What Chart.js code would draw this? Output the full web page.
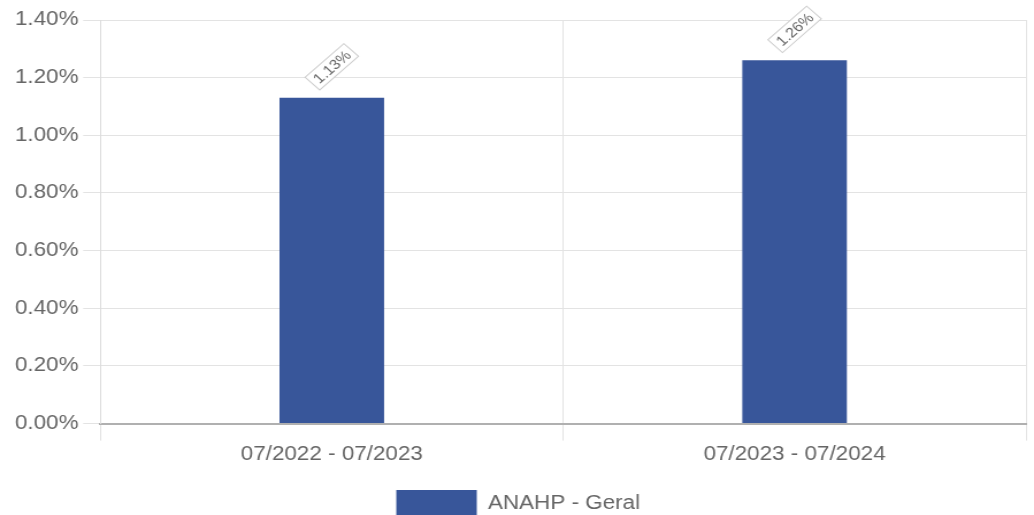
<!DOCTYPE html>
<html>
<head>
<meta charset="utf-8">
<script src="https://cdn.jsdelivr.net/npm/chart.js@4"></script>
<style>
html,body{margin:0;padding:0;background:#fff;overflow:hidden;}
#c{display:block;width:1034px !important;height:528px !important;}
</style>
</head>
<body>
<canvas id="c" width="899" height="528"></canvas>
<script>
const categories = ['07/2022 - 07/2023', '07/2023 - 07/2024'];
const seriesName = 'ANAHP - Geral';
const seriesValues = [1.13, 1.26];
const yMax = 1.4;
const yStep = 0.2;

const FONT = 'Arial, "Liberation Sans", sans-serif';
const TXT = '#666666';

const labelPlugin = {
  id: 'rotLabels',
  afterDatasetsDraw(chart) {
    const ctx = chart.ctx;
    const meta = chart.getDatasetMeta(0);
    meta.data.forEach((bar, i) => {
      const txt = seriesValues[i].toFixed(2) + '%';
      ctx.save();
      ctx.translate(bar.x, bar.y - 31);
      ctx.rotate(-45 * Math.PI / 180);
      ctx.font = '14px ' + FONT;
      const w = ctx.measureText(txt).width + 8;
      const h = 18;
      ctx.fillStyle = '#ffffff';
      ctx.strokeStyle = '#cccccc';
      ctx.lineWidth = 1;
      ctx.fillRect(-w/2, -h/2, w, h);
      ctx.strokeRect(-w/2, -h/2, w, h);
      ctx.fillStyle = TXT;
      ctx.textAlign = 'center';
      ctx.textBaseline = 'middle';
      ctx.fillText(txt, 0, 1);
      ctx.restore();
    });
  }
};

new Chart(document.getElementById('c'), {
  type: 'bar',
  data: {
    labels: categories,
    datasets: [{
      label: seriesName,
      data: seriesValues,
      backgroundColor: '#38569a',
      borderWidth: 0,
      barPercentage: 0.226,
      categoryPercentage: 1.0
    }]
  },
  options: {
    responsive: false,
    animation: false,
    devicePixelRatio: 1,
    layout: { padding: { top: 20, right: 7, left: 9, bottom: 0 } },
    plugins: {
      legend: {
        position: 'bottom',
        labels: {
          boxWidth: 70,
          boxHeight: 28,
          padding: 22,
          color: TXT,
          font: { family: FONT, size: 19.5 }
        }
      },
      tooltip: { enabled: false }
    },
    scales: {
      x: {
        grid: { color: '#e3e3e3', tickLength: 17, offset: true },
        border: { color: '#b0b0b0', width: 2 },
        ticks: { color: TXT, font: { family: FONT, size: 19.5 }, padding: 2 }
      },
      y: {
        min: 0,
        max: yMax,
        grid: { color: '#e3e3e3', tickLength: 15 },
        border: { color: '#dddddd' },
        ticks: {
          stepSize: yStep,
          color: TXT,
          font: { family: FONT, size: 19.5 },
          padding: 4,
          callback: v => v.toFixed(2) + '%'
        }
      }
    }
  },
  plugins: [labelPlugin]
});
</script>
</body>
</html>
